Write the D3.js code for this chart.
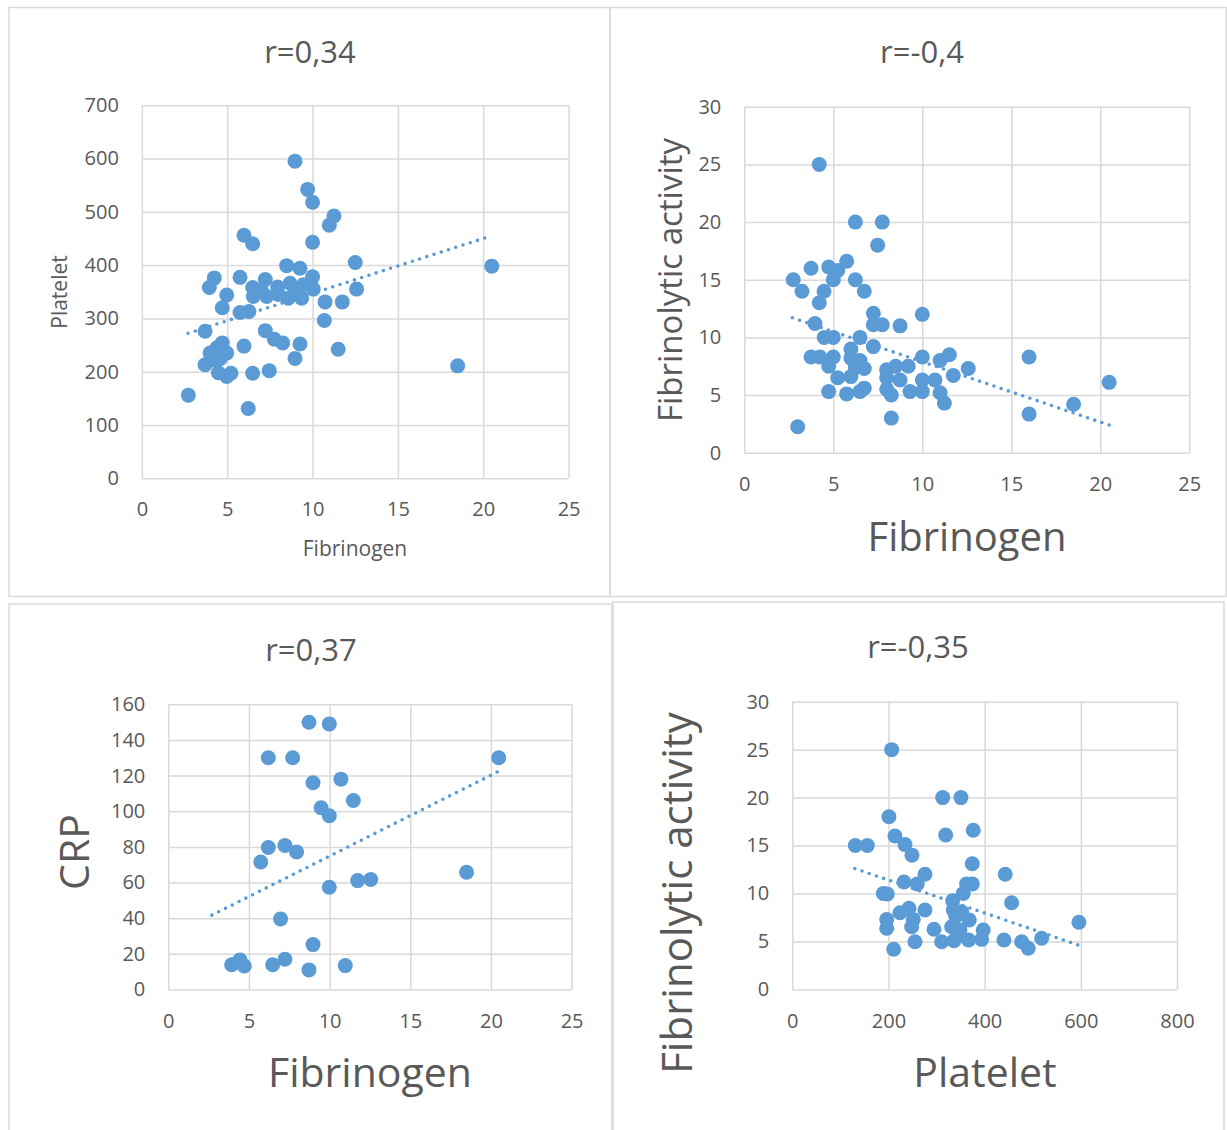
<!DOCTYPE html>
<html lang="en">
  <head>
    <meta charset="UTF-8" />
    <title>Correlations</title>
    <style>
      body {
        margin: 0;
        background: #fff;
      }
      svg {
        display: block;
        font-family: "Open Sans", sans-serif;
      }
      .grid line {
        stroke: #d9d9d9;
        stroke-width: 1.5;
      }
      .grid text {
        fill: #595959;
        font-size: 20px;
        font-family: "Open Sans", sans-serif;
      }
      .label {
        fill: #595959;
        text-anchor: middle;
      }
      .trend {
        fill: none;
        stroke: #5b9bd5;
        stroke-width: 3.6;
        stroke-linecap: round;
        stroke-dasharray: 0 7.6;
      }
      .frame {
        fill: none;
        stroke: #d9d9d9;
        stroke-width: 1.5;
      }
    </style>
  </head>
  <body>
    <script src="https://d3js.org/d3.v7.min.js"></script>
    <script>
      // values: [x, y]
      const fibrinogenPlatelet = [
        [8.97, 595], [9.71, 542], [10.0, 518], [11.25, 492], [10.98, 475],
        [5.98, 456], [6.49, 440], [10.0, 443], [12.5, 405], [8.48, 399],
        [9.26, 394], [10.0, 378], [4.24, 376], [3.95, 358], [5.75, 377],
        [7.23, 373], [6.49, 358], [7.95, 359], [8.68, 366], [9.46, 363],
        [10.04, 355], [12.58, 355], [4.97, 344], [6.53, 341], [7.31, 341],
        [8.58, 338], [9.36, 338], [10.73, 331], [11.74, 331], [4.71, 320],
        [5.75, 311], [6.27, 313], [10.69, 296], [3.7, 276], [7.23, 277],
        [7.76, 261], [8.25, 254], [9.26, 252], [4.71, 254], [5.98, 248],
        [3.99, 235], [4.97, 235], [11.5, 242], [8.97, 225], [3.7, 213],
        [4.48, 198], [5.22, 197], [6.49, 197], [7.46, 202], [4.97, 191],
        [2.72, 156], [6.23, 131], [20.5, 398], [18.5, 211], [4.4, 245],
        [4.6, 225], [4.3, 222], [7.0, 352], [9.0, 347], [8.0, 345]
      ];

      const fibrinogenLysis = [
        [4.21, 25.0], [6.24, 20.0], [7.75, 20.0], [7.49, 18.0], [5.75, 16.6],
        [3.75, 16.0], [4.74, 16.1], [5.25, 15.8], [2.75, 15.0], [5.0, 15.0],
        [6.24, 15.0], [3.24, 14.0], [4.48, 14.0], [6.74, 14.0], [4.21, 13.0],
        [7.25, 12.1], [10.0, 12.0], [3.97, 11.2], [7.25, 11.1], [7.75, 11.1],
        [8.75, 11.0], [4.49, 10.0], [5.0, 10.0], [6.5, 10.0], [7.25, 9.2],
        [5.99, 9.0], [3.75, 8.3], [4.25, 8.3], [5.0, 8.3], [5.99, 8.2],
        [6.5, 8.0], [10.0, 8.3], [11.0, 8.0], [11.52, 8.5], [4.74, 7.5],
        [6.24, 7.4], [6.74, 7.3], [12.58, 7.3], [8.0, 7.2], [8.5, 7.5],
        [9.21, 7.5], [5.25, 6.5], [5.99, 6.6], [8.0, 6.5], [8.75, 6.3],
        [10.0, 6.3], [10.71, 6.3], [11.74, 6.7], [4.74, 5.3], [5.75, 5.1],
        [6.5, 5.3], [6.74, 5.6], [8.0, 5.5], [8.26, 5.0], [9.31, 5.3],
        [10.0, 5.3], [11.0, 5.2], [11.24, 4.3], [8.26, 3.0], [3.0, 2.25],
        [16.0, 8.3], [16.0, 3.35], [18.5, 4.2], [20.5, 6.1]
      ];

      const fibrinogenCrp = [
        [8.72, 149.9], [9.98, 149], [6.2, 130], [7.71, 130], [20.48, 130],
        [8.97, 116], [10.7, 118], [11.47, 106], [9.47, 102], [9.98, 97.5],
        [6.2, 79.7], [7.23, 80.8], [7.95, 77.2], [5.73, 71.5], [18.49, 65.8],
        [11.74, 61.1], [12.55, 61.7], [9.98, 57.4], [6.96, 39.6], [8.97, 25.2],
        [3.93, 13.9], [4.44, 16.6], [4.71, 13.2], [6.47, 13.9], [7.23, 17],
        [8.72, 11], [10.97, 13.4]
      ];

      const plateletLysis = [
        [206.6, 25.0], [312.7, 20.0], [350.7, 20.0], [201, 18.0], [376.3, 16.6],
        [318.9, 16.1], [213.5, 16.0], [131, 15.0], [156, 15.0], [234.3, 15.1],
        [248.9, 14.0], [374.2, 13.1], [442.8, 12.0], [275.9, 12.0], [232.2, 11.2],
        [259.9, 11.0], [362.4, 11.0], [374.2, 11.0], [355.5, 10.0], [189.2, 10.0],
        [197.5, 9.95], [456.1, 9.04], [333.4, 9.25], [223.9, 8.0], [242.6, 8.46],
        [275.9, 8.28], [334.7, 8.28], [352.2, 8.1], [196.3, 7.3], [251.6, 7.3],
        [368, 7.24], [331.4, 6.54], [196.3, 6.37], [248.2, 6.54], [294.6, 6.27],
        [397.1, 6.19], [348.6, 6.19], [596, 7.0], [310.6, 4.97], [336.2, 5.08],
        [366.7, 5.15], [393.8, 5.22], [255.1, 4.97], [440.1, 5.15], [476.9, 4.97],
        [490.6, 4.29], [518.5, 5.33], [210.8, 4.18], [340, 7.6], [345, 5.6]
      ];

      // dotted linear trend lines, end points
      const trendPlatelet = [[2.7, 272], [20.5, 455]];
      const trendLysis = [[2.7, 11.7], [20.5, 2.4]];
      const trendCrp = [[2.7, 41.7], [20.5, 122.5]];
      const trendPlateletLysis = [[130, 12.6], [596, 4.6]];

      const titles = ["r=0,34", "r=-0,4", "r=0,37", "r=-0,35"];
      const xTitles = ["Fibrinogen", "Fibrinogen", "Fibrinogen", "Platelet"];
      const yTitles = ["Platelet", "Fibrinolytic activity", "CRP", "Fibrinolytic activity"];

      const fibTicks = [0, 5, 10, 15, 20, 25];
      const plateletTicks = [0, 100, 200, 300, 400, 500, 600, 700];
      const lysisTicks = [0, 5, 10, 15, 20, 25, 30];
      const crpTicks = [0, 20, 40, 60, 80, 100, 120, 140, 160];
      const plateletXTicks = [0, 200, 400, 600, 800];

      const panels = [
        {
          data: fibrinogenPlatelet, trend: trendPlatelet,
          xTicks: fibTicks, yTicks: plateletTicks,
          frame: [9, 7.5, 610, 596.5],
          plot: { left: 141.9, right: 568.6, top: 105.2, bottom: 478.3 },
          title: { x: 310, y: 63, size: 31 },
          xTitle: { x: 355, y: 556, size: 21 },
          yTitle: { x: 67, y: 292, size: 21 },
        },
        {
          data: fibrinogenLysis, trend: trendLysis,
          xTicks: fibTicks, yTicks: lysisTicks,
          frame: [610, 7.5, 1226, 596.5],
          plot: { left: 744.3, right: 1189.3, top: 106.8, bottom: 452.7 },
          title: { x: 922, y: 63, size: 31 },
          xTitle: { x: 967, y: 551, size: 40 },
          yTitle: { x: 682, y: 280, size: 33 },
        },
        {
          data: fibrinogenCrp, trend: trendCrp,
          xTicks: fibTicks, yTicks: crpTicks,
          frame: [9, 604, 612, 1140],
          plot: { left: 168.3, right: 571.6, top: 704.3, bottom: 989.5 },
          title: { x: 311, y: 661, size: 31 },
          xTitle: { x: 370, y: 1087, size: 41 },
          yTitle: { x: 89, y: 852, size: 41 },
        },
        {
          data: plateletLysis, trend: trendPlateletLysis,
          xTicks: plateletXTicks, yTicks: lysisTicks,
          frame: [613, 602, 1224, 1140],
          plot: { left: 792.3, right: 1177, top: 701.7, bottom: 989.4 },
          title: { x: 918, y: 658, size: 31 },
          xTitle: { x: 985, y: 1087, size: 41 },
          yTitle: { x: 692, y: 893, size: 42 },
        },
      ];

      const svg = d3
        .select("body")
        .append("svg")
        .attr("width", 1227)
        .attr("height", 1130);

      panels.forEach((p, i) => {
        const g = svg.append("g");
        const [fx0, fy0, fx1, fy1] = p.frame;

        g.append("rect")
          .attr("class", "frame")
          .attr("x", fx0)
          .attr("y", fy0)
          .attr("width", fx1 - fx0)
          .attr("height", fy1 - fy0);

        const x = d3
          .scaleLinear()
          .domain(d3.extent(p.xTicks))
          .range([p.plot.left, p.plot.right]);
        const y = d3
          .scaleLinear()
          .domain(d3.extent(p.yTicks))
          .range([p.plot.bottom, p.plot.top]);

        const h = p.plot.bottom - p.plot.top;
        const w = p.plot.right - p.plot.left;

        g.append("g")
          .attr("class", "grid")
          .attr("transform", `translate(0, ${p.plot.bottom})`)
          .call(
            d3.axisBottom(x).tickValues(p.xTicks).tickSize(-h).tickPadding(24)
          )
          .call((a) => a.select(".domain").remove());

        g.append("g")
          .attr("class", "grid")
          .attr("transform", `translate(${p.plot.left}, 0)`)
          .call(
            d3.axisLeft(y).tickValues(p.yTicks).tickSize(-w).tickPadding(23)
          )
          .call((a) => a.select(".domain").remove());

        g.selectAll(".grid text").attr("font-size", null);

        g.append("path")
          .attr("class", "trend")
          .attr(
            "d",
            d3
              .line()
              .x((d) => x(d[0]))
              .y((d) => y(d[1]))(p.trend)
          );

        g.append("g")
          .selectAll("circle")
          .data(p.data)
          .join("circle")
          .attr("cx", (d) => x(d[0]))
          .attr("cy", (d) => y(d[1]))
          .attr("r", 7.5)
          .attr("fill", "#5b9bd5");

        g.append("text")
          .attr("class", "label")
          .attr("x", p.title.x)
          .attr("y", p.title.y)
          .attr("font-size", p.title.size)
          .text(titles[i]);

        g.append("text")
          .attr("class", "label")
          .attr("x", p.xTitle.x)
          .attr("y", p.xTitle.y)
          .attr("font-size", p.xTitle.size)
          .text(xTitles[i]);

        g.append("text")
          .attr("class", "label")
          .attr(
            "transform",
            `translate(${p.yTitle.x}, ${p.yTitle.y}) rotate(-90)`
          )
          .attr("font-size", p.yTitle.size)
          .text(yTitles[i]);
      });
    </script>
  </body>
</html>
